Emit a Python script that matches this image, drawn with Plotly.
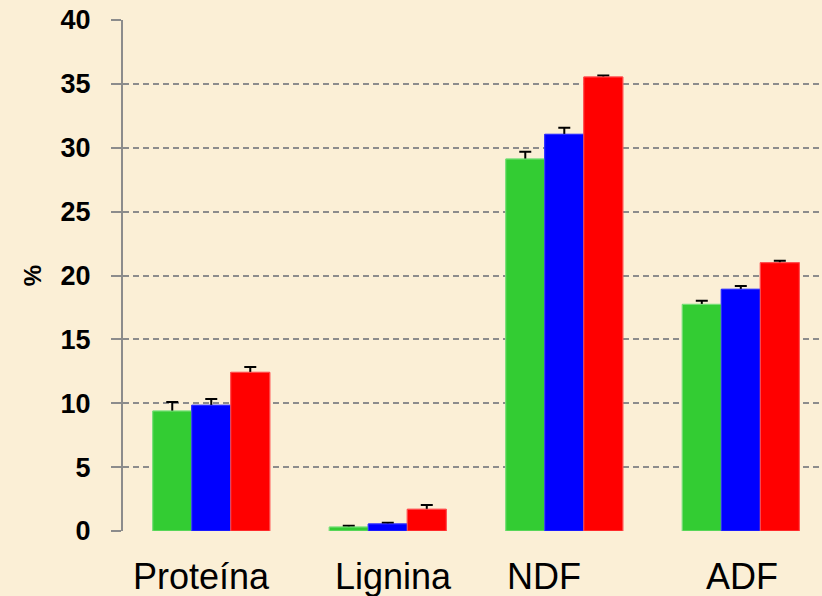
import plotly.graph_objects as go

categories = ["Proteína", "Lignina", "NDF", "ADF"]
series_names = ["Serie 1", "Serie 2", "Serie 3"]
green_vals = [9.39, 0.31, 29.12, 17.74]
green_err = [0.70, 0.10, 0.57, 0.29]
blue_vals = [9.84, 0.55, 31.05, 18.92]
blue_err = [0.50, 0.10, 0.52, 0.26]
red_vals = [12.42, 1.70, 35.54, 21.00]
red_err = [0.42, 0.33, 0.12, 0.16]
y_ticks = [0, 5, 10, 15, 20, 25, 30, 35, 40]
label_shift = [-10, 6, -20, 1]

colors = ["#33CC33", "#0000FF", "#FF0000"]
edges = ["#7FE07F", "#3333FF", "#FF5555"]
vals = [green_vals, blue_vals, red_vals]
errs = [green_err, blue_err, red_err]
bg = "#FBEFD6"

fig = go.Figure()
xi = list(range(len(categories)))
# bars carrying symmetric error bars (lower half later hidden)
for k, (name, v, e, c, ec) in enumerate(zip(series_names, vals, errs, colors, edges)):
    fig.add_trace(go.Bar(
        x=xi, y=v, name=name, offsetgroup=str(k),
        marker=dict(color=c, line=dict(color=ec, width=1)),
        error_y=dict(type="data", array=e, symmetric=True,
                     color="black", thickness=2, width=6),
        hoverinfo="skip",
    ))
# covering bars, drawn on top to hide the lower half of each whisker
for k, (name, v, c, ec) in enumerate(zip(series_names, vals, colors, edges)):
    fig.add_trace(go.Bar(
        x=xi, y=v, name=name, offsetgroup=str(k),
        marker=dict(color=c, line=dict(color=ec, width=1)),
    ))

for i, (cat, sh) in enumerate(zip(categories, label_shift)):
    fig.add_annotation(x=i, y=0, xref="x", yref="y", text=cat, showarrow=False,
                       yshift=-45, xshift=sh,
                       font=dict(family="Liberation Sans, Arial", size=36, color="black"))

fig.update_layout(
    width=822, height=596,
    margin=dict(l=123, r=0, t=20, b=65),
    paper_bgcolor=bg, plot_bgcolor=bg,
    barmode="group", bargap=0.337, bargroupgap=0,
    showlegend=False,
    xaxis=dict(range=[-0.5, 3.46], showticklabels=False, showgrid=False, zeroline=False,
               showline=False, ticks=""),
    yaxis=dict(range=[0, 40], tickvals=y_ticks, showgrid=True, gridcolor="#8C8C8C",
               gridwidth=2, griddash="6px,4px", zeroline=False,
               showline=True, linecolor="#8C8C8C", linewidth=2,
               ticks="outside", ticklen=10, tickcolor="#8C8C8C", tickwidth=2,
               ticklabelstandoff=15,
               tickfont=dict(family="Liberation Sans, Arial", size=27, color="black", weight="bold"),
               title=dict(text="%", standoff=12,
                          font=dict(family="Liberation Sans, Arial", size=24, color="black", weight="bold"))),
)

fig.write_html("out.html", config={"displayModeBar": False},
               post_script="document.body.style.margin='0';document.body.style.background='" + bg + "';")
